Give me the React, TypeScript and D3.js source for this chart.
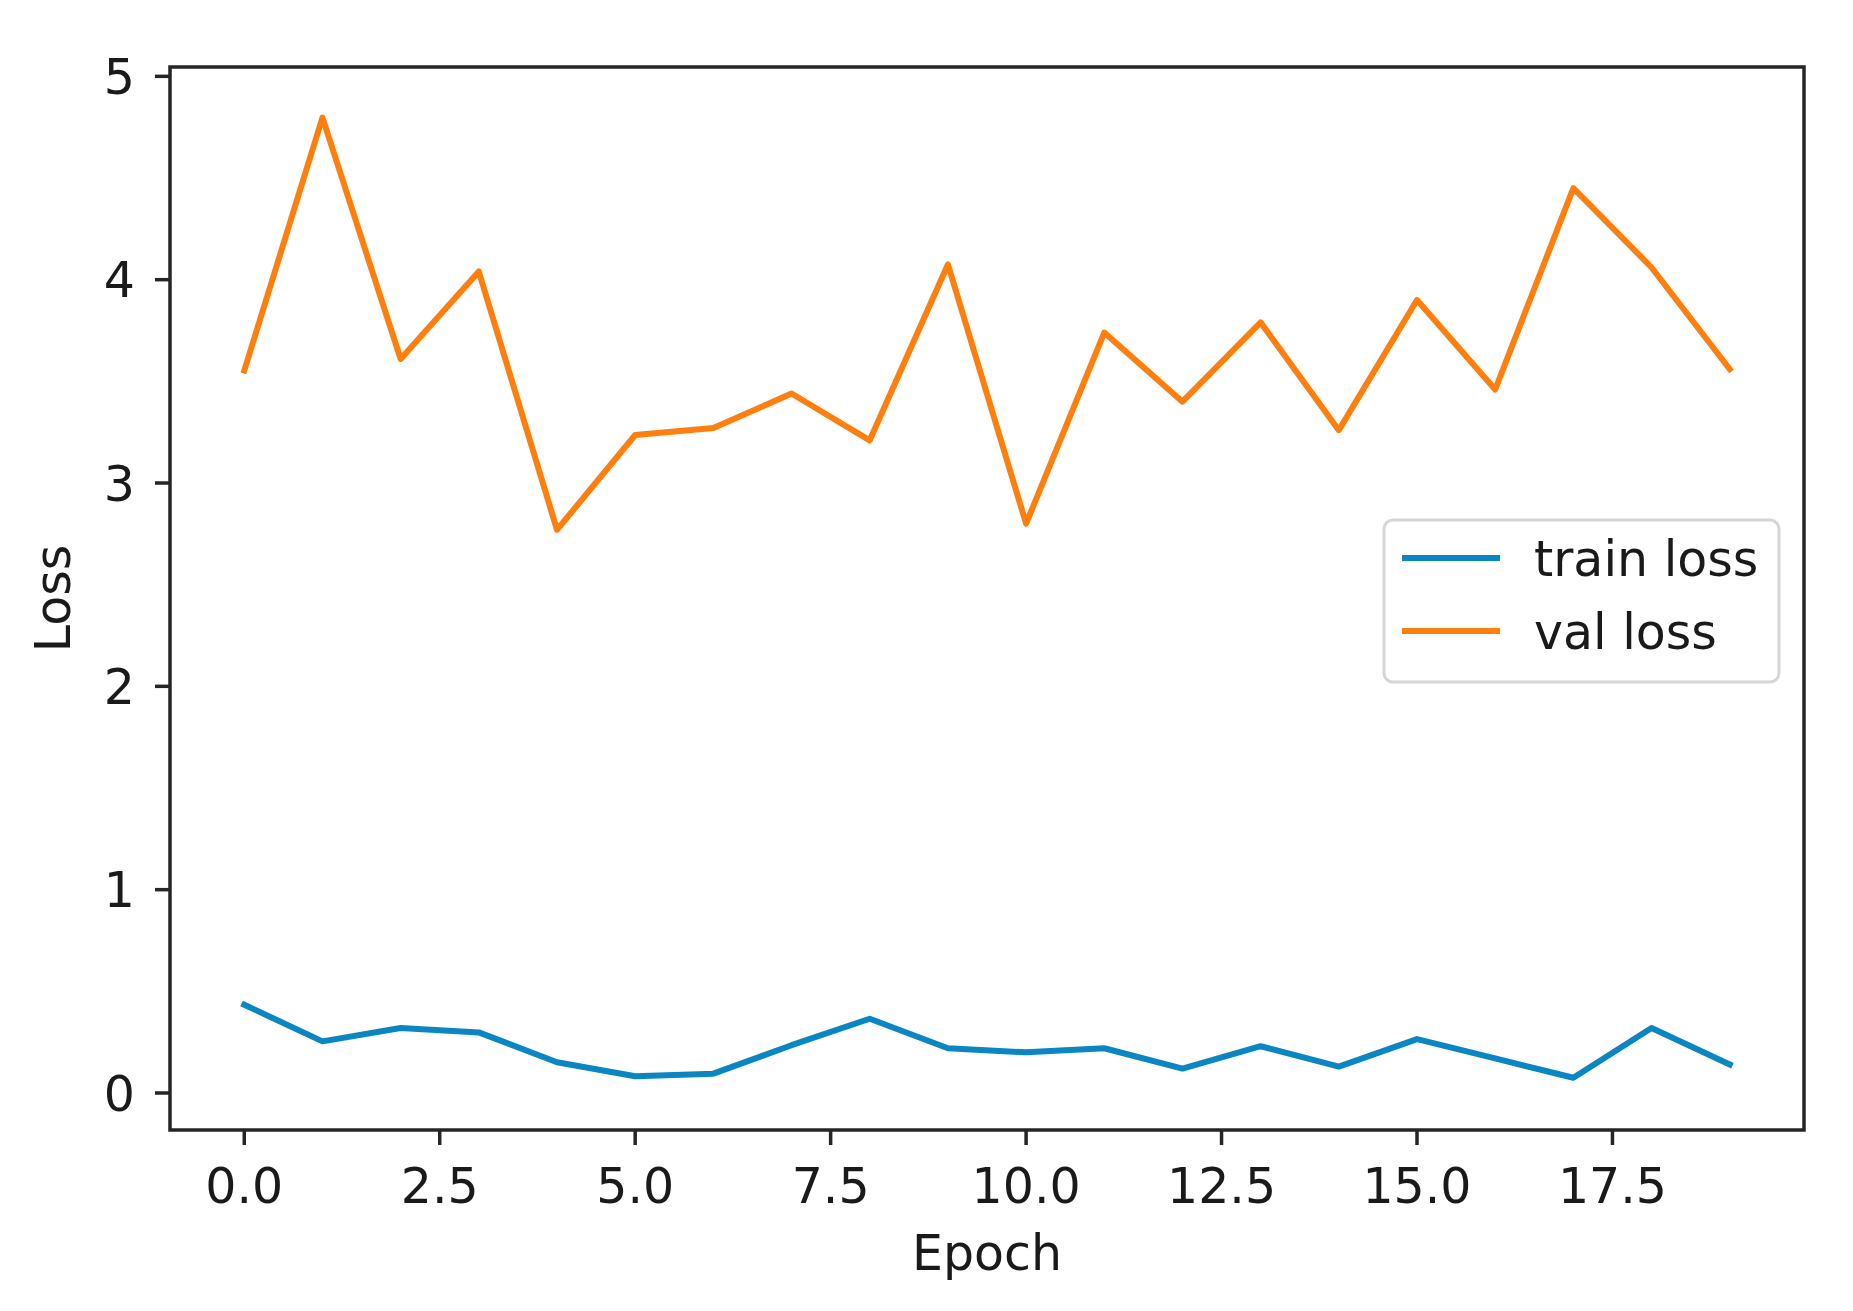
import React from "react";
import * as d3 from "d3";

const epochs = d3.range(0, 20);
const trainLoss = [0.434, 0.254, 0.32, 0.298, 0.151, 0.082, 0.095, 0.235, 0.365, 0.22, 0.2, 0.22, 0.12, 0.23, 0.13, 0.265, 0.17, 0.075, 0.32, 0.14];
const valLoss = [3.553, 4.797, 3.61, 4.04, 2.77, 3.236, 3.27, 3.44, 3.21, 4.075, 2.8, 3.74, 3.4, 3.79, 3.26, 3.9, 3.46, 4.45, 4.06, 3.56];
const xTicks = [0, 2.5, 5, 7.5, 10, 12.5, 15, 17.5];
const yTicks = [0, 1, 2, 3, 4, 5];
const seriesNames = ["train loss", "val loss"];
const seriesColors = ["#0a86c2", "#ff7f0e"];
const xLimits = [-0.95, 19.95];
const yLimits = [-0.182, 5.046];

const W = 1853;
const H = 1311;
const m = { left: 170, right: 1804, top: 67, bottom: 1130 };
const FONT = "'DejaVu Sans', sans-serif";
const TXT = "#1a1a1a";

export default function App() {
  const x = d3.scaleLinear().domain(xLimits).range([m.left, m.right]);
  const y = d3.scaleLinear().domain(yLimits).range([m.bottom, m.top]);
  const line = d3
    .line<number>()
    .x((_, i) => x(epochs[i]))
    .y((d) => y(d));
  const series = [trainLoss, valLoss];
  const tickLen = 15;
  const fs = 49;

  return (
    <svg
      width={W}
      height={H}
      viewBox={`0 0 ${W} ${H}`}
      style={{ position: "absolute", left: 0, top: 0, background: "#fff" }}
    >
      <rect x={0} y={0} width={W} height={H} fill="#fff" />
      {series.map((s, k) => (
        <path
          key={k}
          d={line(s) || ""}
          fill="none"
          stroke={seriesColors[k]}
          strokeWidth={6}
          strokeLinejoin="round"
          strokeLinecap="square"
        />
      ))}
      <rect
        x={m.left}
        y={m.top}
        width={m.right - m.left}
        height={m.bottom - m.top}
        fill="none"
        stroke="#262626"
        strokeWidth={3.5}
      />
      {yTicks.map((t) => (
        <g key={"y" + t}>
          <line x1={m.left - tickLen} x2={m.left} y1={y(t)} y2={y(t)} stroke="#262626" strokeWidth={3.5} />
          <text
            x={m.left - tickLen - 20}
            y={y(t)}
            dy="0.36em"
            textAnchor="end"
            fontFamily={FONT}
            fontSize={fs}
            fill={TXT}
          >
            {d3.format("d")(t)}
          </text>
        </g>
      ))}
      {xTicks.map((t) => (
        <g key={"x" + t}>
          <line x1={x(t)} x2={x(t)} y1={m.bottom} y2={m.bottom + tickLen} stroke="#262626" strokeWidth={3.5} />
          <text x={x(t)} y={1203} textAnchor="middle" fontFamily={FONT} fontSize={fs} fill={TXT}>
            {d3.format(".1f")(t)}
          </text>
        </g>
      ))}
      <text x={(m.left + m.right) / 2} y={1270} textAnchor="middle" fontFamily={FONT} fontSize={fs} fill={TXT}>
        Epoch
      </text>
      <text
        transform={`translate(70 ${(m.top + m.bottom) / 2}) rotate(-90)`}
        textAnchor="middle"
        fontFamily={FONT}
        fontSize={fs}
        fill={TXT}
      >
        Loss
      </text>
      <g>
        <rect x={1384} y={520} width={395} height={162} rx={9} fill="#fff" stroke="#d6d6d6" strokeWidth={3} />
        {seriesNames.map((n, k) => (
          <g key={n}>
            <line
              x1={1402}
              x2={1500}
              y1={558 + k * 73}
              y2={558 + k * 73}
              stroke={seriesColors[k]}
              strokeWidth={6}
            />
            <text x={1534} y={558 + k * 73} dy="0.36em" fontFamily={FONT} fontSize={fs} fill={TXT}>
              {n}
            </text>
          </g>
        ))}
      </g>
    </svg>
  );
}
